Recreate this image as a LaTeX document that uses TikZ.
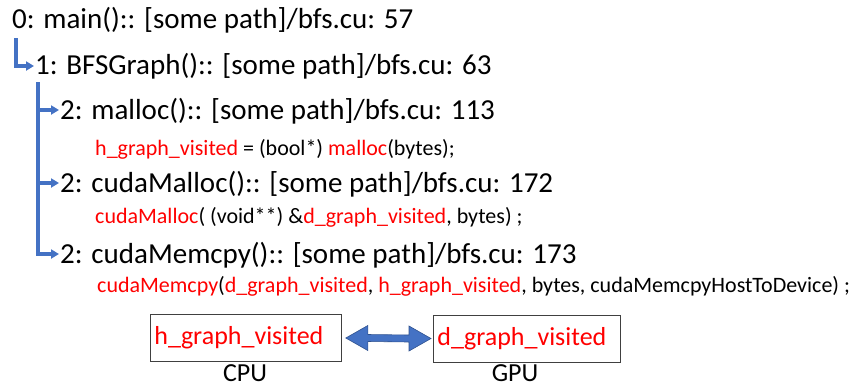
\documentclass[tikz,border=0pt]{standalone}
\usepackage{fontspec}
\setmainfont{Carlito}
\usetikzlibrary{arrows.meta,calc}
\definecolor{tree}{HTML}{4472C4}
\definecolor{treedark}{HTML}{2F528F}
\definecolor{hl}{HTML}{FF0000}
\begin{document}
\begin{tikzpicture}[x=1pt,y=-1pt,
  callsite/.style={anchor=base west,inner sep=0pt,font=\fontsize{29}{32}\selectfont},
  codeline/.style={anchor=base west,inner sep=0pt,font=\fontsize{22}{24}\selectfont},
  link/.style={draw=tree,line width=3.2pt,-{Triangle[length=8pt,width=9pt]}},
  varbox/.style={draw=black!75,line width=0.8pt,minimum height=47pt,inner ysep=0pt,inner xsep=4pt,align=left,anchor=west,text=hl,font=\fontsize{26}{28}\selectfont},
  devlabel/.style={anchor=base,inner sep=0pt,font=\fontsize{26}{28}\selectfont}]
\useasboundingbox (0,0) rectangle (861,389);
% call stack levels
\node[callsite] (l0) at (12,28) {0: main():: [some path]/bfs.cu: 57};
\node[callsite] (l1) at (35,74) {1: BFSGraph():: [some path]/bfs.cu: 63};
\node[callsite] (l2a) at (60,119) {2: malloc():: [some path]/bfs.cu: 113};
\node[codeline] (c2a) at (95,155) {\textcolor{hl}{h\_graph\_visited} = (bool*) \textcolor{hl}{malloc}(bytes);};
\node[callsite] (l2b) at (60,192) {2: cudaMalloc():: [some path]/bfs.cu: 172};
\node[codeline] (c2b) at (95,223) {\textcolor{hl}{cudaMalloc}( (void**) \&\textcolor{hl}{d\_graph\_visited}, bytes) ;};
\node[callsite] (l2c) at (60,263) {2: cudaMemcpy():: [some path]/bfs.cu: 173};
\node[codeline] (c2c) at (97,292) {\textcolor{hl}{cudaMemcpy}(\textcolor{hl}{d\_graph\_visited}, \textcolor{hl}{h\_graph\_visited}, bytes, cudaMemcpyHostToDevice) ;};
% tree connectors
\coordinate (t0) at (16,38);
\coordinate (t1) at (38,82);
\draw[link] (t0) |- ($(l1.base west)+(-1,-8)$);
\draw[link] (t1) |- ($(l2a.base west)+(-1,-9)$);
\draw[link] (t1) |- ($(l2b.base west)+(-1,-9)$);
\draw[link] (t1) |- ($(l2c.base west)+(-1,-9)$);
% host and device buffers
\node[varbox,text width=183pt] (hbox) at (150,338) {h\_graph\_visited};
\node[varbox,text width=179pt] (dbox) at (433,338.5) {d\_graph\_visited};
\node[devlabel] (cpu) at (245,381) {CPU};
\node[devlabel] (gpu) at (515,381) {GPU};
% copy arrow between the buffers
\coordinate (la) at ([xshift=4pt]hbox.east);
\coordinate (ra) at ([xshift=-2pt]dbox.west);
\fill[tree,draw=treedark,line width=0.6pt]
  (la) -- ++(22,-12.5) -- ++(0,9) -- ($(ra)+(-22,-3.5)$) -- ++(0,-9) -- (ra)
  -- ++(-22,12.5) -- ++(0,-9) -- ($(la)+(22,3.5)$) -- ++(0,9) -- cycle;
\end{tikzpicture}
\end{document}
